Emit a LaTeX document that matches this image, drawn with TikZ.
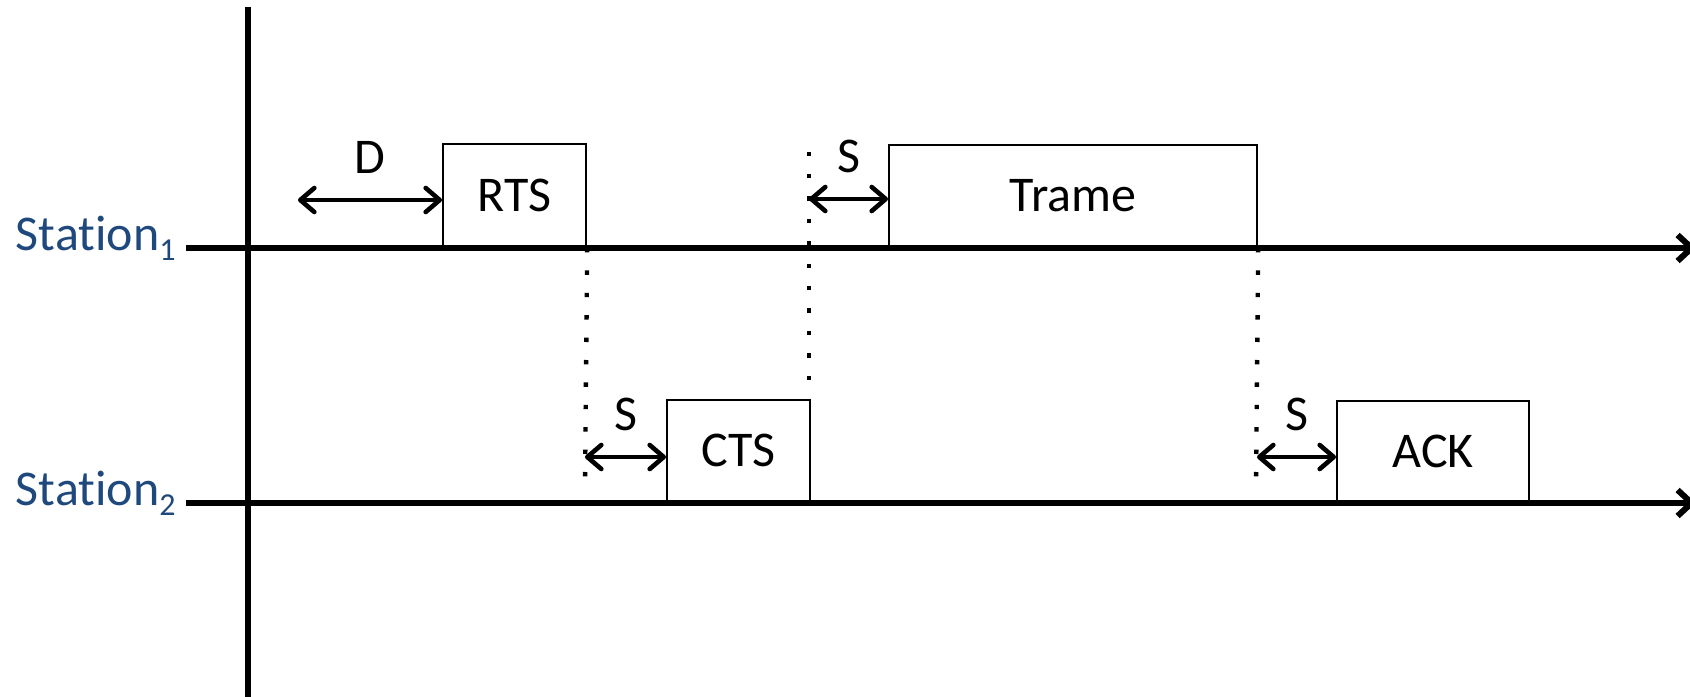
\documentclass[tikz,border=0pt]{standalone}
\usepackage{fontspec}
\setmainfont{Carlito}[Ligatures={TeX,NoCommon}]
\usepackage{tikz}
\usetikzlibrary{arrows.meta,positioning}
\definecolor{STbleu}{RGB}{31,73,125}
\newcommand{\nomstation}[1]{Station\raisebox{-5pt}{\fontsize{16}{16}\selectfont #1}}

\tikzset{
  paquet/.style={draw,line width=1.1pt,inner sep=0pt,anchor=south west,
                 font=\fontsize{25}{28}\selectfont},
  delai/.style={line width=2.3pt,line cap=round,{Straight Barb[length=7pt,width=12pt,round,line width=2.3pt]}-{Straight Barb[length=7pt,width=12pt,round,line width=2.3pt]}},
  pointille/.style={line width=2.2pt,dash pattern=on 2.2pt off 9pt},
  axe/.style={line width=3pt},
  etiq/.style={font=\fontsize{25}{28}\selectfont,inner sep=0pt},
  station/.style={etiq,text=STbleu,anchor=base east}
}

\begin{document}
\begin{tikzpicture}[x=0.5pt,y=-0.5pt]
\useasboundingbox (0,0) rectangle (1690,696);
\coordinate (s1) at (186,248);
\coordinate (s2) at (186,503);
\coordinate (f1) at (1696,248);
\coordinate (f2) at (1696,503);
\coordinate (haut) at (248,7);
\coordinate (bas) at (248,700);
\draw[axe] (haut) -- (bas);
\draw[axe,-{Straight Barb[length=7pt,width=13pt,line width=3pt]}] (s1) -- (f1);
\draw[axe,-{Straight Barb[length=7pt,width=13pt,line width=3pt]}] (s2) -- (f2);
\node[station,xshift=-5pt,yshift=-1pt] (st1) at (s1) {\nomstation{1}};
\node[station,xshift=-5pt,yshift=-1pt] (st2) at (s2) {\nomstation{2}};

\node[paquet,minimum width=71.5pt,minimum height=51.5pt] (rts) at (442,248) {RTS};
\node[paquet,minimum width=184pt,minimum height=51pt] (trame) at (888,248) {Trame};
\node[paquet,minimum width=71.5pt,minimum height=51pt] (cts) at (666,503) {CTS};
\node[paquet,minimum width=96pt,minimum height=50.5pt] (ack) at (1336,503) {ACK};

\coordinate (d0) at (298,200);
\coordinate (a1) at (809,199);
\coordinate (a2) at (585,457);
\coordinate (a3) at (1257,457);
\draw[delai] (d0) -- node[etiq,above=12pt] (lD) {D} (d0 -| rts.west);
\draw[delai] (a1) -- node[etiq,above=12pt] (lS1) {S} (a1 -| trame.west);
\draw[delai] (a2) -- node[etiq,above=12pt] (lS2) {S} (a2 -| cts.west);
\draw[delai] (a3) -- node[etiq,above=12pt] (lS3) {S} (a3 -| ack.west);

\coordinate (p1) at (585,482);
\coordinate (q1) at (809,380);
\coordinate (q2) at (809,148);
\coordinate (p3) at (1256,482);
\draw[pointille] (rts.south east) -- (p1);
\draw[pointille] (q1) -- (q2);
\draw[pointille] (trame.south east) -- (p3);
\end{tikzpicture}
\end{document}
